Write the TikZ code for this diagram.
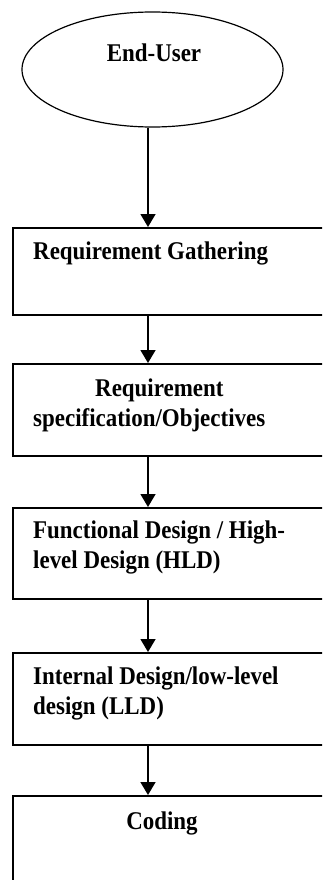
\documentclass[tikz,border=0pt]{standalone}
\usepackage{fontspec}
\setmainfont{Liberation Serif}
\newfontfamily\stagefont[FakeStretch=0.9]{Liberation Serif}
\usetikzlibrary{shapes.geometric,arrows.meta}
\begin{document}
\begin{tikzpicture}[x=1pt,y=-1pt,
  stage/.style={draw, line width=1.5pt, rectangle, inner sep=0pt,
    minimum width=330pt, anchor=north west},
  lbl/.style={font=\stagefont\fontsize{25.5}{30}\selectfont\bfseries, inner sep=0pt, align=left},
  arr/.style={line width=1.5pt, -{Triangle[width=15pt,length=13pt]}}]
  \useasboundingbox (0,0) rectangle (322,880);
  \clip (0,0) rectangle (322,880);
  % start node
  \node[draw, ellipse, line width=1.2pt, minimum width=261pt, minimum height=115pt, inner sep=0pt]
    (eu) at (152.5,69.5) {};
  \node[lbl] (euT) at (154,53) {End-User};
  % stage boxes
  \node[stage, minimum height=87pt] (b1) at (12,227) {};
  \node[stage, minimum height=92pt] (b2) at (12,363) {};
  \node[stage, minimum height=91pt] (b3) at (12,507) {};
  \node[stage, minimum height=92pt] (b4) at (12,652) {};
  \node[stage, minimum height=120pt] (b5) at (12,795) {};
  % stage labels
  \node[lbl, anchor=west] (t1) at (33,253) {Requirement Gathering};
  \node[lbl, anchor=west] (t2) at (33,405) {\hspace*{62pt}Requirement\\specification/Objectives};
  \node[lbl, anchor=west] (t3) at (33,547) {Functional Design / High-\\level Design (HLD)};
  \node[lbl, anchor=west] (t4) at (33,693) {Internal Design/low-level\\design (LLD)};
  \node[lbl] (t5) at (162,823) {Coding};
  % flow arrows
  \coordinate (axis) at (148,0);
  \draw[arr] (axis |- eu.south) -- (axis |- b1.north);
  \draw[arr] (axis |- b1.south) -- (axis |- b2.north);
  \draw[arr] (axis |- b2.south) -- (axis |- b3.north);
  \draw[arr] (axis |- b3.south) -- (axis |- b4.north);
  \draw[arr] (axis |- b4.south) -- (axis |- b5.north);
\end{tikzpicture}
\end{document}
